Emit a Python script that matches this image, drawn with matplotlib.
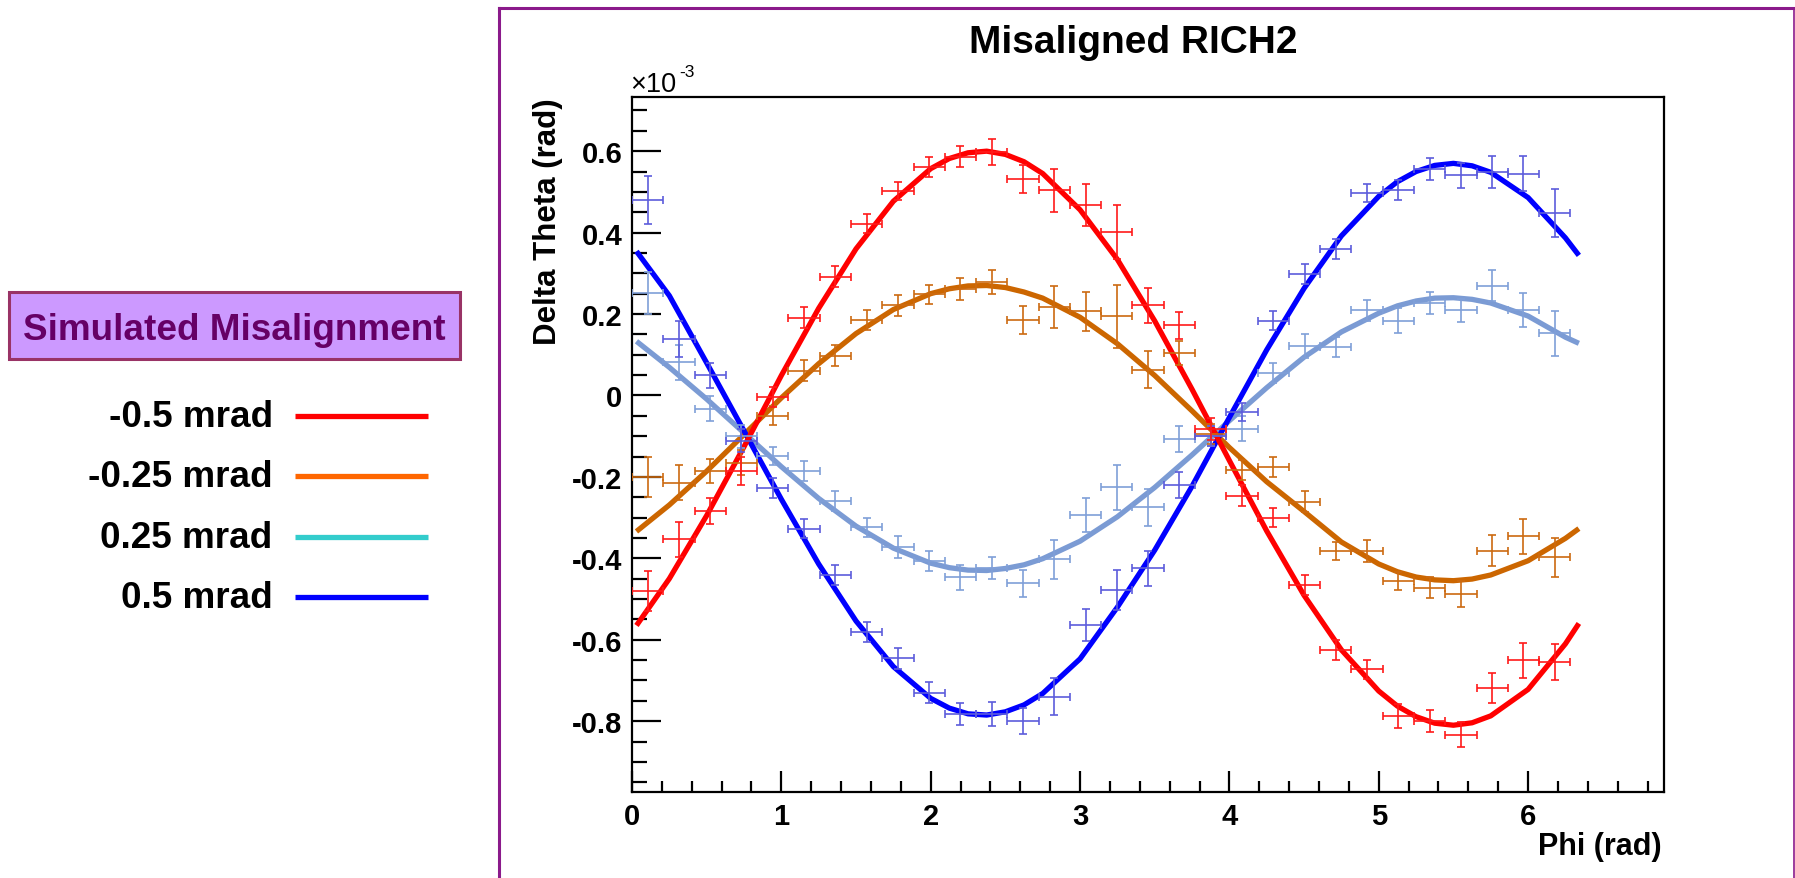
"""
Misaligned RICH2 - Delta Theta vs Phi for four simulated misalignments.
Binned data with error bars + fitted curves, ROOT-style frame and side legend.
"""
import matplotlib
matplotlib.use('Agg')
import matplotlib.pyplot as plt
from matplotlib.lines import Line2D
from matplotlib.patches import Rectangle
from matplotlib.ticker import MultipleLocator, FuncFormatter

plt.rcParams['font.family'] = ['Liberation Sans', 'DejaVu Sans']
plt.rcParams['font.weight'] = 'bold'
plt.rcParams['axes.unicode_minus'] = False

# ---------- Data (Delta Theta in units of 1e-3 rad) ----------
phi_bins = [0.105, 0.314, 0.524, 0.733, 0.942, 1.152, 1.361, 1.571, 1.780, 1.990,
            2.199, 2.409, 2.618, 2.827, 3.037, 3.246, 3.456, 3.665, 3.875, 4.084,
            4.294, 4.503, 4.712, 4.922, 5.131, 5.341, 5.550, 5.760, 5.969, 6.178]
BIN_HALF = 0.105

red_y = [-0.480, -0.353, -0.283, -0.185, -0.004, 0.191, 0.292, 0.422, 0.502, 0.561,
         0.586, 0.598, 0.532, 0.504, 0.467, 0.401, 0.221, 0.172, -0.082, -0.246,
         -0.300, -0.466, -0.625, -0.673, -0.787, -0.800, -0.833, -0.718, -0.651, -0.655]
red_err = [0.049, 0.043, 0.032, 0.035, 0.025, 0.025, 0.025, 0.023, 0.023, 0.025,
           0.026, 0.031, 0.034, 0.053, 0.052, 0.066, 0.042, 0.034, 0.027, 0.025,
           0.023, 0.025, 0.024, 0.024, 0.029, 0.027, 0.031, 0.037, 0.042, 0.044]

orange_y = [-0.201, -0.214, -0.185, -0.165, -0.050, 0.061, 0.098, 0.186, 0.221, 0.248,
            0.262, 0.278, 0.186, 0.217, 0.207, 0.194, 0.063, 0.104, -0.095, -0.183,
            -0.175, -0.261, -0.382, -0.382, -0.455, -0.472, -0.488, -0.382, -0.346, -0.398]
orange_err = [0.049, 0.043, 0.029, 0.030, 0.023, 0.025, 0.025, 0.025, 0.025, 0.023,
              0.027, 0.030, 0.034, 0.051, 0.048, 0.077, 0.045, 0.029, 0.025, 0.025,
              0.025, 0.026, 0.023, 0.027, 0.022, 0.026, 0.032, 0.038, 0.043, 0.047]

lblue_y = [0.251, 0.082, -0.033, -0.100, -0.148, -0.185, -0.259, -0.324, -0.373, -0.406,
           -0.447, -0.425, -0.461, -0.402, -0.294, -0.226, -0.275, -0.107, -0.100, -0.082,
           0.055, 0.122, 0.119, 0.209, 0.184, 0.227, 0.209, 0.270, 0.209, 0.153]
lblue_err = [0.052, 0.043, 0.031, 0.028, 0.022, 0.025, 0.025, 0.023, 0.027, 0.025,
             0.031, 0.027, 0.033, 0.048, 0.041, 0.056, 0.045, 0.031, 0.025, 0.031,
             0.025, 0.029, 0.025, 0.025, 0.030, 0.027, 0.029, 0.039, 0.042, 0.055]

blue_y = [0.481, 0.139, 0.049, -0.111, -0.228, -0.327, -0.441, -0.581, -0.646, -0.730,
          -0.783, -0.783, -0.800, -0.740, -0.564, -0.478, -0.425, -0.220, -0.100, -0.041,
          0.184, 0.299, 0.360, 0.497, 0.505, 0.555, 0.541, 0.549, 0.545, 0.448]
blue_err = [0.059, 0.045, 0.030, 0.028, 0.024, 0.024, 0.024, 0.024, 0.025, 0.025,
            0.027, 0.030, 0.032, 0.045, 0.039, 0.049, 0.042, 0.033, 0.025, 0.022,
            0.024, 0.025, 0.025, 0.022, 0.025, 0.027, 0.031, 0.040, 0.044, 0.060]

# fitted curves (denser around the extrema)
fit_phi = [0.03, 0.25, 0.50, 0.75, 1.00, 1.25, 1.50, 1.75, 2.00, 2.125, 2.25, 2.375,
           2.50, 2.625, 2.75, 3.00, 3.25, 3.50, 3.75, 4.00, 4.25, 4.50, 4.75, 5.00,
           5.125, 5.25, 5.375, 5.50, 5.625, 5.75, 6.00, 6.25, 6.34]
red_fit = [-0.565, -0.450, -0.295, -0.126, 0.049, 0.214, 0.360, 0.477, 0.557, 0.582,
           0.596, 0.600, 0.592, 0.574, 0.545, 0.456, 0.334, 0.183, 0.015, -0.160,
           -0.333, -0.491, -0.625, -0.726, -0.763, -0.789, -0.805, -0.810, -0.804,
           -0.787, -0.722, -0.610, -0.560]
orange_fit = [-0.334, -0.269, -0.186, -0.096, -0.006, 0.078, 0.152, 0.211, 0.250, 0.262,
              0.269, 0.270, 0.265, 0.254, 0.239, 0.192, 0.127, 0.049, -0.038, -0.128,
              -0.212, -0.285, -0.360, -0.414, -0.433, -0.446, -0.453, -0.455, -0.451,
              -0.441, -0.406, -0.351, -0.327]
lblue_fit = [0.133, 0.069, -0.009, -0.092, -0.175, -0.253, -0.321, -0.375, -0.412, -0.423,
             -0.429, -0.430, -0.425, -0.416, -0.401, -0.358, -0.298, -0.226, -0.146, -0.062,
             0.019, 0.094, 0.156, 0.202, 0.220, 0.232, 0.239, 0.240, 0.236,
             0.227, 0.195, 0.143, 0.128]
blue_fit = [0.354, 0.245, 0.080, -0.087, -0.255, -0.414, -0.554, -0.666, -0.744, -0.768,
            -0.782, -0.785, -0.777, -0.760, -0.732, -0.647, -0.520, -0.380, -0.223, -0.054,
            0.112, 0.263, 0.392, 0.489, 0.525, 0.550, 0.565, 0.570, 0.564,
            0.548, 0.486, 0.387, 0.344]

legend_labels = ['-0.5 mrad', '-0.25 mrad', '0.25 mrad', '0.5 mrad']
legend_colors = ['#ff0000', '#ff6600', '#33cccc', '#0000ff']

# ---------- Figure ----------
W, H = 1795, 879
fig = plt.figure(figsize=(W / 100, H / 100), dpi=100)
fig.patch.set_facecolor('white')

def fx(px):
    return px / W

def fy(py):
    return 1 - py / H

ax = fig.add_axes([fx(632), fy(793), fx(1664) - fx(632), fy(98) - fy(793)])

series = [
    (lblue_fit, lblue_y, lblue_err, '#7b9bd4', '#7f9fd8'),
    (orange_fit, orange_y, orange_err, '#cc6600', '#cc6a10'),
    (blue_fit, blue_y, blue_err, '#0000ff', '#5c5cdc'),
    (red_fit, red_y, red_err, '#ff0000', '#ff1a1a'),
]
for fit, y, err, c_fit, c_pts in series:
    ax.plot(fit_phi, fit, color=c_fit, lw=3.8, solid_capstyle='butt',
            solid_joinstyle='round', zorder=2)
for fit, y, err, c_fit, c_pts in series:
    ax.errorbar(phi_bins, y, xerr=BIN_HALF, yerr=err, fmt='none', ecolor=c_pts,
                elinewidth=1.2, capsize=3, capthick=1.2, zorder=3)

ax.set_xlim(0, 6.91)
ax.set_ylim(-0.974, 0.733)
ax.xaxis.set_major_locator(MultipleLocator(1))
ax.xaxis.set_minor_locator(MultipleLocator(0.2))
ax.yaxis.set_major_locator(MultipleLocator(0.2))
ax.yaxis.set_minor_locator(MultipleLocator(0.05))
ax.yaxis.set_major_formatter(FuncFormatter(lambda v, p: '0' if abs(v) < 1e-9 else f'{v:g}'))
ax.xaxis.set_major_formatter(FuncFormatter(lambda v, p: f'{v:g}'))

ax.tick_params(axis='both', which='both', direction='in', width=1.6, top=False, right=False)
ax.tick_params(axis='y', which='major', length=21, pad=7, labelsize=21)
ax.tick_params(axis='y', which='minor', length=11)
ax.tick_params(axis='x', which='major', length=15, pad=7, labelsize=21)
ax.tick_params(axis='x', which='minor', length=8)
for s in ax.spines.values():
    s.set_linewidth(1.6)

# axis titles, ROOT style (at the axis ends)
ax.text(-0.0814, 1.0, 'Delta Theta (rad)', transform=ax.transAxes, rotation=90,
        ha='center', va='top', fontsize=22.5, fontweight='bold')
fig.text(fx(1662), fy(855), 'Phi (rad)', ha='right', va='baseline',
         fontsize=22, fontweight='bold')
fig.text(fx(630), fy(91.5), '\u00d710', ha='left', va='baseline',
         fontsize=19.5, fontweight='normal')
fig.text(fx(679), fy(77), '-3', ha='left', va='baseline',
         fontsize=12.5, fontweight='normal')

fig.text(0.6316, fy(53.3), 'Misaligned RICH2', ha='center', va='baseline',
         fontsize=28, fontweight='bold')

# purple frame around the plot pad
frame_kw = dict(color='#8b1a8b', lw=2.2, transform=fig.transFigure)
fig.add_artist(Line2D([fx(499), fx(499)], [fy(9), 0], **frame_kw))
fig.add_artist(Line2D([fx(499), fx(1794)], [fy(9), fy(9)], **frame_kw))
fig.add_artist(Line2D([fx(1794), fx(1794)], [fy(9), 0], color='#8b1a8b', lw=1.2,
                      transform=fig.transFigure))

# side legend
fig.add_artist(Rectangle((fx(9), fy(360)), fx(460) - fx(9), fy(293) - fy(360),
                         transform=fig.transFigure, facecolor='#cc99ff',
                         edgecolor='#993366', linewidth=2.2))
fig.text(fx(234.5), fy(340), 'Simulated Misalignment', ha='center', va='baseline',
         fontsize=26.6, fontweight='bold', color='#660066')

legend_rows = [416.7, 476.7, 537.7, 597.7]
for lab, col, yy in zip(legend_labels, legend_colors, legend_rows):
    fig.text(fx(272.7), fy(yy + 10.8), lab, ha='right', va='baseline',
             fontsize=26.6, fontweight='bold', color='black')
    fig.add_artist(Line2D([fx(295), fx(428)], [fy(yy), fy(yy)], color=col, lw=3.8,
                          solid_capstyle='butt', transform=fig.transFigure))

fig.savefig('out.png', dpi=100, facecolor='white')
plt.close(fig)
